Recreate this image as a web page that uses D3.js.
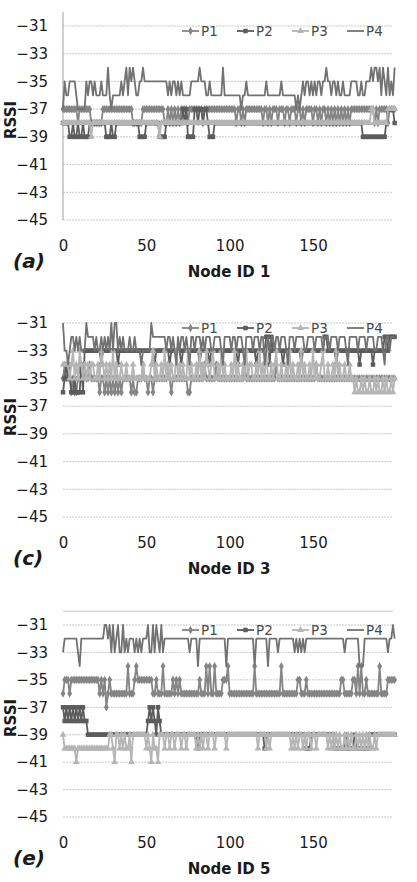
<!DOCTYPE html>
<html>
<head>
<meta charset="utf-8">
<script src="https://cdn.jsdelivr.net/npm/d3@7"></script>
<style>
  body { margin: 0; background: #fff; }
  svg { display: block; }
  text { font-family: "DejaVu Sans", Verdana, sans-serif; }
</style>
</head>
<body>
<svg width="417" height="882"></svg>
<script>
const seriesNames = ["P1", "P2", "P3", "P4"];
const yTicks = [-31, -33, -35, -37, -39, -41, -43, -45];
const xTicks = [0, 50, 100, 150];

// ---- Node ID 1 ----
const p1a = [
  -37,-37,-37,-37,-37,-37,-37,-37,-37,-38,-37,-37,-37,-37,-37,-37,-37,-38,-38,-38,
  -38,-38,-38,-38,-37,-37,-37,-37,-37,-37,-37,-37,-37,-37,-37,-37,-37,-37,-37,-37,
  -37,-37,-38,-38,-38,-38,-38,-38,-37,-37,-37,-37,-37,-37,-37,-37,-37,-37,-37,-37,
  -37,-38,-38,-37,-38,-37,-38,-37,-38,-37,-38,-37,-37,-37,-37,-38,-37,-37,-37,-37,
  -37,-37,-37,-37,-38,-37,-37,-37,-37,-37,-37,-37,-37,-37,-37,-37,-37,-37,-37,-37,
  -37,-37,-37,-37,-38,-37,-37,-38,-37,-38,-37,-37,-37,-37,-37,-37,-37,-37,-37,-37,
  -38,-37,-37,-38,-37,-38,-37,-37,-37,-38,-37,-37,-37,-38,-37,-37,-38,-37,-37,-37,
  -38,-37,-37,-38,-37,-38,-37,-37,-37,-37,-38,-37,-37,-38,-37,-38,-37,-37,-38,-37,
  -38,-37,-38,-37,-38,-37,-38,-37,-38,-37,-38,-37,-38,-37,-37,-37,-37,-37,-37,-37,
  -37,-37,-37,-37,-37,-37,-37,-38,-37,-38,-37,-37,-37,-37,-37,-38,-37,-37,-37,-37
];
const p2a = [
  -38,-38,-38,-38,-39,-39,-38,-39,-39,-38,-39,-39,-38,-39,-39,-39,-38,-38,-38,-38,
  -38,-38,-38,-38,-38,-38,-39,-39,-39,-38,-39,-39,-38,-38,-38,-38,-38,-38,-38,-38,
  -38,-38,-38,-38,-38,-38,-39,-39,-39,-39,-38,-38,-38,-38,-38,-38,-38,-38,-39,-39,
  -39,-39,-38,-38,-38,-38,-38,-38,-38,-38,-38,-38,-37,-38,-37,-39,-39,-39,-39,-37,
  -37,-38,-37,-37,-38,-37,-37,-38,-39,-39,-39,-38,-38,-38,-38,-38,-38,-38,-38,-38,
  -38,-38,-38,-38,-38,-38,-38,-38,-38,-38,-38,-38,-38,-38,-38,-38,-38,-38,-38,-38,
  -38,-38,-38,-38,-38,-38,-38,-38,-38,-38,-38,-38,-38,-38,-38,-38,-38,-38,-38,-38,
  -38,-38,-38,-38,-38,-38,-38,-38,-38,-38,-38,-38,-38,-38,-38,-38,-38,-38,-38,-38,
  -38,-38,-38,-38,-38,-38,-38,-38,-38,-38,-38,-38,-38,-38,-38,-38,-38,-38,-38,-38,
  -39,-39,-39,-39,-39,-39,-39,-39,-39,-39,-39,-39,-39,-39,-38,-37,-37,-37,-37,-38
];
const p3a = [
  -38,-38,-38,-38,-38,-38,-38,-38,-38,-38,-38,-38,-38,-38,-38,-38,-38,-39,-38,-38,
  -38,-38,-38,-38,-38,-38,-38,-38,-38,-38,-38,-38,-38,-38,-38,-38,-38,-38,-38,-38,
  -38,-38,-38,-38,-38,-38,-38,-38,-38,-38,-38,-38,-38,-38,-38,-38,-38,-38,-39,-38,
  -38,-38,-38,-38,-38,-38,-38,-38,-38,-38,-38,-38,-38,-38,-38,-38,-38,-38,-38,-38,
  -38,-38,-38,-38,-38,-38,-38,-38,-38,-38,-38,-38,-38,-38,-38,-38,-38,-38,-38,-38,
  -38,-38,-38,-38,-38,-38,-38,-38,-38,-38,-38,-38,-38,-38,-38,-38,-38,-38,-38,-38,
  -38,-38,-38,-38,-38,-38,-38,-38,-38,-38,-38,-38,-38,-38,-38,-38,-38,-38,-38,-38,
  -38,-38,-38,-38,-38,-38,-38,-38,-38,-38,-38,-38,-38,-38,-38,-38,-38,-38,-38,-38,
  -38,-38,-38,-38,-38,-38,-38,-38,-38,-38,-38,-38,-38,-38,-38,-38,-38,-38,-38,-38,
  -38,-38,-38,-38,-38,-37,-37,-38,-38,-38,-38,-38,-38,-38,-38,-37,-37,-37,-37,-37
];
const p4a = [
  -37,-35,-36,-36,-35,-35,-35,-35,-36,-37,-37,-37,-37,-37,-35,-36,-35,-35,-36,-35,
  -36,-36,-36,-35,-36,-36,-36,-34,-36,-37,-36,-36,-36,-36,-36,-35,-36,-35,-34,-36,
  -34,-35,-34,-35,-36,-36,-35,-35,-34,-35,-35,-35,-35,-35,-35,-35,-35,-35,-35,-35,
  -35,-35,-35,-36,-35,-36,-35,-35,-36,-35,-36,-35,-36,-36,-36,-36,-36,-35,-35,-35,
  -35,-35,-34,-35,-35,-35,-36,-36,-35,-36,-36,-36,-36,-36,-36,-36,-34,-36,-36,-36,
  -36,-36,-36,-36,-36,-36,-36,-37,-36,-36,-35,-36,-36,-36,-36,-36,-36,-36,-36,-36,
  -36,-36,-35,-36,-36,-36,-36,-36,-36,-36,-36,-35,-36,-36,-36,-36,-36,-36,-36,-36,
  -37,-36,-37,-36,-35,-36,-35,-35,-36,-35,-36,-35,-36,-35,-35,-36,-35,-35,-34,-35,
  -35,-36,-35,-35,-36,-35,-36,-36,-35,-36,-36,-36,-36,-35,-35,-35,-35,-36,-36,-35,
  -36,-36,-35,-35,-35,-34,-35,-34,-34,-35,-34,-36,-34,-35,-36,-34,-36,-35,-36,-34
];

// ---- Node ID 3 ----
const p1c = [
  -35,-34,-35,-35,-35,-36,-35,-36,-36,-35,-34,-35,-35,-34,-35,-35,-34,-35,-35,-35,
  -35,-35,-36,-35,-35,-36,-35,-36,-35,-36,-35,-36,-35,-36,-35,-36,-35,-35,-35,-35,
  -35,-36,-35,-36,-36,-35,-35,-35,-34,-35,-35,-36,-35,-35,-36,-35,-35,-35,-35,-35,
  -35,-35,-35,-34,-35,-36,-35,-35,-35,-35,-35,-35,-35,-35,-35,-36,-36,-35,-35,-35,
  -35,-35,-35,-35,-35,-34,-35,-35,-35,-35,-35,-35,-34,-35,-35,-35,-35,-35,-35,-35,
  -35,-35,-35,-35,-35,-35,-35,-35,-35,-34,-35,-35,-35,-35,-35,-35,-35,-35,-35,-35,
  -35,-35,-35,-35,-35,-35,-35,-35,-34,-35,-35,-35,-35,-35,-35,-35,-35,-35,-35,-35,
  -35,-35,-35,-35,-35,-35,-35,-35,-35,-35,-35,-35,-34,-35,-35,-35,-35,-35,-35,-35,
  -35,-35,-35,-35,-35,-35,-35,-35,-35,-35,-35,-35,-35,-35,-35,-35,-35,-35,-35,-35,
  -35,-35,-35,-35,-35,-35,-35,-35,-35,-35,-35,-35,-35,-35,-35,-35,-35,-35,-35,-35
];
const p2c = [
  -36,-35,-34,-35,-34,-36,-36,-35,-36,-36,-36,-34,-36,-33,-33,-33,-33,-33,-33,-33,
  -33,-33,-33,-34,-33,-33,-33,-33,-33,-33,-33,-33,-33,-34,-33,-33,-33,-33,-33,-33,
  -33,-33,-33,-33,-33,-33,-33,-33,-33,-33,-33,-33,-33,-33,-33,-34,-33,-33,-33,-33,
  -33,-33,-33,-33,-34,-33,-33,-33,-33,-33,-33,-34,-33,-33,-33,-33,-33,-33,-33,-33,
  -33,-33,-34,-33,-33,-33,-33,-33,-34,-33,-33,-33,-33,-33,-33,-33,-33,-33,-33,-33,
  -33,-33,-33,-33,-33,-34,-33,-33,-33,-33,-33,-33,-33,-33,-33,-33,-34,-33,-33,-33,
  -33,-33,-32,-32,-34,-32,-33,-33,-33,-33,-33,-33,-34,-33,-33,-33,-33,-33,-33,-33,
  -33,-33,-33,-34,-33,-33,-33,-33,-33,-33,-33,-33,-33,-33,-33,-33,-33,-32,-32,-33,
  -33,-33,-33,-33,-34,-33,-33,-33,-33,-33,-33,-33,-33,-33,-33,-33,-33,-33,-34,-33,
  -33,-33,-33,-33,-33,-33,-34,-33,-33,-33,-33,-33,-33,-32,-32,-33,-32,-32,-32,-32
];
const p3c = [
  -34,-34,-34,-34,-35,-34,-33,-35,-34,-35,-33,-34,-35,-34,-35,-34,-35,-34,-34,-35,
  -35,-34,-35,-33,-34,-35,-34,-35,-34,-35,-33,-35,-34,-35,-35,-34,-35,-35,-34,-35,
  -35,-35,-34,-35,-35,-35,-35,-35,-34,-35,-35,-35,-35,-34,-33,-35,-34,-35,-35,-34,
  -35,-33,-35,-34,-35,-34,-35,-35,-33,-35,-34,-35,-34,-35,-35,-33,-35,-34,-35,-35,
  -34,-35,-33,-35,-34,-35,-33,-34,-35,-34,-33,-35,-35,-34,-35,-33,-35,-34,-35,-35,
  -35,-34,-35,-33,-35,-34,-35,-35,-34,-35,-33,-35,-34,-34,-35,-35,-34,-35,-33,-35,
  -34,-35,-33,-35,-35,-34,-35,-34,-33,-35,-35,-34,-35,-35,-34,-35,-33,-35,-34,-35,
  -35,-34,-35,-33,-35,-34,-35,-35,-34,-35,-33,-35,-34,-35,-35,-34,-33,-35,-35,-34,
  -35,-35,-34,-35,-33,-35,-34,-35,-35,-34,-35,-35,-34,-35,-35,-36,-35,-36,-36,-35,
  -36,-35,-36,-36,-35,-36,-36,-35,-36,-35,-36,-36,-35,-36,-35,-36,-36,-35,-36,-35
];
const p4c = [
  -31,-33,-33,-34,-33,-32,-32,-33,-32,-33,-32,-33,-33,-33,-31,-32,-32,-32,-32,-33,
  -32,-33,-33,-32,-33,-32,-33,-32,-33,-31,-33,-31,-31,-33,-32,-33,-32,-33,-33,-33,
  -32,-33,-33,-32,-33,-33,-33,-34,-33,-33,-33,-33,-33,-31,-32,-32,-32,-32,-32,-32,
  -32,-32,-33,-32,-32,-33,-32,-33,-34,-32,-33,-32,-32,-33,-32,-33,-34,-32,-32,-33,
  -32,-32,-32,-33,-32,-33,-32,-32,-32,-33,-33,-32,-32,-32,-32,-33,-34,-32,-32,-32,
  -32,-33,-32,-32,-33,-32,-32,-32,-33,-34,-32,-32,-32,-32,-33,-32,-32,-32,-33,-32,
  -32,-34,-33,-32,-33,-32,-32,-33,-32,-32,-33,-32,-32,-32,-33,-34,-32,-32,-32,-33,
  -32,-32,-32,-32,-32,-33,-33,-32,-32,-32,-32,-33,-32,-32,-32,-32,-33,-32,-32,-32,
  -33,-32,-32,-32,-32,-33,-32,-32,-32,-32,-33,-34,-32,-32,-32,-32,-32,-33,-32,-32,
  -32,-32,-33,-32,-32,-32,-32,-33,-33,-32,-32,-32,-33,-34,-32,-32,-33,-32,-32,-32
];

// ---- Node ID 5 ----
const p1e = [
  -36,-35,-35,-35,-36,-35,-35,-35,-35,-35,-35,-35,-35,-35,-35,-35,-35,-35,-35,-35,
  -35,-35,-36,-35,-36,-35,-37,-36,-35,-36,-36,-36,-36,-36,-36,-36,-36,-36,-36,-34,
  -36,-36,-36,-35,-34,-35,-35,-35,-35,-35,-35,-35,-35,-35,-36,-36,-35,-36,-36,-36,
  -34,-36,-36,-36,-36,-36,-35,-36,-35,-36,-35,-36,-36,-36,-36,-36,-36,-36,-36,-36,
  -36,-36,-35,-36,-36,-36,-34,-36,-34,-36,-36,-34,-36,-36,-36,-36,-35,-35,-35,-34,
  -36,-36,-36,-36,-36,-36,-36,-36,-36,-36,-36,-36,-36,-36,-36,-34,-36,-36,-36,-36,
  -36,-36,-36,-36,-36,-36,-36,-36,-36,-36,-36,-34,-36,-36,-36,-36,-36,-36,-36,-36,
  -36,-35,-35,-36,-36,-36,-35,-36,-36,-36,-36,-36,-36,-36,-36,-36,-36,-36,-36,-36,
  -36,-36,-36,-36,-36,-36,-36,-35,-35,-36,-36,-36,-36,-36,-35,-35,-36,-34,-36,-34,
  -36,-36,-35,-36,-36,-36,-36,-36,-36,-36,-34,-36,-36,-36,-36,-35,-35,-35,-35,-35
];
const p2e = [
  -37,-38,-37,-38,-37,-38,-37,-38,-37,-38,-37,-38,-37,-38,-38,-39,-39,-39,-39,-39,
  -39,-39,-39,-39,-39,-39,-39,-39,-39,-39,-39,-39,-39,-39,-39,-39,-39,-39,-39,-39,
  -39,-39,-39,-39,-39,-39,-39,-39,-39,-39,-39,-38,-37,-38,-37,-38,-39,-37,-38,-39,
  -39,-39,-39,-39,-39,-39,-39,-39,-39,-39,-39,-39,-39,-39,-39,-39,-39,-39,-39,-39,
  -39,-40,-39,-39,-39,-39,-39,-39,-39,-39,-39,-39,-39,-39,-39,-39,-39,-39,-39,-39,
  -39,-39,-39,-39,-39,-39,-39,-39,-39,-39,-39,-39,-39,-39,-39,-39,-39,-39,-39,-39,
  -39,-40,-39,-39,-39,-39,-39,-39,-39,-39,-39,-39,-39,-39,-39,-39,-39,-39,-39,-39,
  -39,-39,-39,-39,-39,-39,-40,-40,-40,-39,-39,-39,-39,-39,-39,-39,-39,-39,-39,-39,
  -39,-39,-39,-40,-40,-40,-40,-40,-40,-40,-39,-40,-40,-40,-40,-39,-40,-40,-40,-40,
  -40,-40,-40,-40,-39,-39,-39,-39,-39,-39,-39,-39,-39,-39,-39,-39,-39,-39,-39,-39
];
const p3e = [
  -39,-40,-40,-40,-40,-40,-40,-40,-41,-40,-40,-40,-40,-40,-40,-40,-40,-40,-40,-40,
  -40,-40,-40,-40,-40,-40,-40,-40,-39,-39,-40,-41,-39,-39,-40,-39,-40,-39,-40,-40,
  -39,-41,-39,-39,-39,-39,-39,-39,-39,-39,-40,-39,-40,-41,-39,-40,-40,-41,-39,-39,
  -39,-40,-39,-39,-40,-39,-39,-40,-39,-39,-39,-40,-39,-39,-40,-39,-39,-39,-39,-39,
  -40,-39,-40,-39,-40,-39,-39,-40,-39,-39,-39,-40,-39,-39,-39,-39,-39,-39,-40,-39,
  -39,-39,-39,-39,-39,-39,-39,-39,-39,-39,-39,-39,-39,-39,-39,-39,-39,-40,-39,-39,
  -39,-39,-40,-39,-40,-39,-39,-39,-39,-39,-39,-39,-39,-39,-39,-39,-39,-40,-39,-40,
  -39,-40,-39,-39,-40,-39,-40,-39,-39,-40,-39,-39,-40,-39,-39,-39,-39,-39,-39,-40,
  -39,-40,-39,-40,-39,-40,-39,-40,-40,-39,-40,-39,-40,-39,-40,-40,-39,-40,-39,-40,
  -39,-40,-39,-40,-39,-40,-40,-39,-40,-39,-39,-39,-39,-39,-39,-39,-39,-39,-39,-39
];
const p4e = [
  -33,-32,-32,-32,-32,-32,-32,-32,-32,-33,-34,-32,-32,-32,-32,-32,-32,-32,-32,-32,
  -32,-32,-32,-32,-32,-31,-31,-32,-31,-33,-31,-33,-32,-31,-33,-33,-31,-33,-32,-33,
  -32,-32,-32,-33,-32,-33,-32,-33,-32,-32,-32,-31,-33,-33,-31,-33,-31,-32,-33,-31,
  -33,-32,-32,-32,-32,-32,-32,-32,-32,-32,-32,-32,-32,-32,-32,-32,-33,-32,-32,-32,
  -32,-34,-32,-32,-32,-32,-32,-32,-32,-32,-32,-32,-32,-32,-32,-32,-32,-32,-34,-32,
  -32,-32,-32,-32,-32,-32,-32,-32,-32,-32,-32,-32,-32,-32,-32,-34,-32,-32,-32,-32,
  -32,-32,-32,-34,-32,-32,-32,-32,-32,-33,-32,-32,-32,-32,-32,-32,-32,-32,-32,-33,
  -32,-33,-32,-33,-32,-33,-32,-32,-32,-32,-32,-32,-32,-32,-32,-32,-32,-32,-32,-32,
  -32,-32,-32,-32,-32,-32,-32,-32,-32,-33,-32,-32,-32,-32,-32,-32,-32,-32,-34,-34,
  -34,-32,-32,-32,-32,-32,-32,-32,-32,-32,-32,-32,-32,-32,-32,-33,-32,-32,-31,-32
];

const svg = d3.select("svg");

const styles = [
  { color: "#858585", symbol: d3.symbolDiamond, size: 20 },
  { color: "#5c5c5c", symbol: d3.symbolSquare, size: 20 },
  { color: "#b5b5b5", symbol: d3.symbolTriangle, size: 20 },
  { color: "#727272", symbol: null, size: 0 }
];

const panels = [
  { tag: "(a)", title: "Node ID 1", top: 26, bottom: 220, data: [p1a, p2a, p3a, p4a], axisLine: true },
  { tag: "(c)", title: "Node ID 3", top: 323, bottom: 517, data: [p1c, p2c, p3c, p4c] },
  { tag: "(e)", title: "Node ID 5", top: 625, bottom: 817, data: [p1e, p2e, p3e, p4e], topLine: true }
];

const left = 63, right = 393;
const x = d3.scaleLinear().domain([0, 200]).range([left, 396.3]);

panels.forEach(p => {
  const y = d3.scaleLinear().domain([-45, -31]).range([p.bottom, p.top]);
  const g = svg.append("g");

  // gridlines
  g.append("g").selectAll("line")
    .data(yTicks)
    .join("line")
    .attr("x1", left).attr("x2", right)
    .attr("y1", d => y(d)).attr("y2", d => y(d))
    .attr("stroke", "#c8c8c8")
    .attr("stroke-width", 1)
    .attr("stroke-dasharray", "2,1");

  if (p.topLine) {
    g.append("line")
      .attr("x1", left).attr("x2", right)
      .attr("y1", y(-30)).attr("y2", y(-30))
      .attr("stroke", "#d0d0d0").attr("stroke-width", 1.2);
  }
  if (p.axisLine) {
    g.append("line")
      .attr("x1", left).attr("x2", left)
      .attr("y1", y(-30)).attr("y2", y(-45))
      .attr("stroke", "#a0a0a0").attr("stroke-width", 1);
  }

  // y axis labels
  const ya = g.append("g")
    .attr("transform", `translate(${left},0)`)
    .call(d3.axisLeft(y).tickValues(yTicks).tickSize(0).tickPadding(15));
  ya.select(".domain").remove();
  ya.selectAll("text")
    .attr("font-size", "15px")
    .attr("font-family", "DejaVu Sans, sans-serif")
    .attr("fill", "#1a1a1a");

  // x axis labels
  const xa = g.append("g")
    .attr("transform", `translate(0,${p.bottom + 20})`)
    .call(d3.axisBottom(x).tickValues(xTicks).tickSize(0).tickPadding(0));
  xa.select(".domain").remove();
  xa.selectAll("text")
    .attr("font-size", "15px")
    .attr("font-family", "DejaVu Sans, sans-serif")
    .attr("fill", "#1a1a1a");

  // series
  const line = d3.line().x((d, i) => x(i)).y(d => y(d));
  p.data.forEach((vals, k) => {
    const s = styles[k];
    g.append("path")
      .datum(vals)
      .attr("d", line)
      .attr("fill", "none")
      .attr("stroke", s.color)
      .attr("stroke-width", 1.8)
      .attr("stroke-linejoin", "round");
    if (s.symbol) {
      g.append("g").selectAll("path")
        .data(vals)
        .join("path")
        .attr("transform", (d, i) => `translate(${x(i)},${y(d)})`)
        .attr("d", d3.symbol().type(s.symbol).size(s.size))
        .attr("fill", s.color);
    }
  });

  // legend
  const legendX = [182, 237, 292, 347];
  const ly = p.top + 5;
  const lg = g.append("g");
  seriesNames.forEach((name, k) => {
    const s = styles[k];
    lg.append("line")
      .attr("x1", legendX[k]).attr("x2", legendX[k] + 17)
      .attr("y1", ly).attr("y2", ly)
      .attr("stroke", s.color).attr("stroke-width", 1.8);
    if (s.symbol) {
      lg.append("path")
        .attr("transform", `translate(${legendX[k] + 8.5},${ly})`)
        .attr("d", d3.symbol().type(s.symbol).size(s.size))
        .attr("fill", s.color);
    }
    lg.append("text")
      .attr("x", legendX[k] + 19)
      .attr("y", ly + 5)
      .attr("font-size", "13.5px")
      .attr("fill", "#4a4a4a")
      .text(name);
  });

  // RSSI label
  g.append("text")
    .attr("transform", `translate(16,${(p.top + p.bottom) / 2 - 3}) rotate(-90)`)
    .attr("text-anchor", "middle")
    .attr("font-size", "15px")
    .attr("font-weight", "bold")
    .attr("fill", "#1a1a1a")
    .text("RSSI");

  // panel tag
  g.append("text")
    .attr("x", 13)
    .attr("y", p.bottom + 48)
    .attr("font-family", "Liberation Serif, serif")
    .attr("font-style", "italic")
    .attr("font-weight", "bold")
    .attr("font-size", "20px")
    .attr("fill", "#1a1a1a")
    .text(p.tag);

  // x axis title
  g.append("text")
    .attr("x", 229)
    .attr("y", p.bottom + 57)
    .attr("text-anchor", "middle")
    .attr("font-size", "15px")
    .attr("font-weight", "bold")
    .attr("fill", "#1a1a1a")
    .text(p.title);
});
</script>
</body>
</html>
